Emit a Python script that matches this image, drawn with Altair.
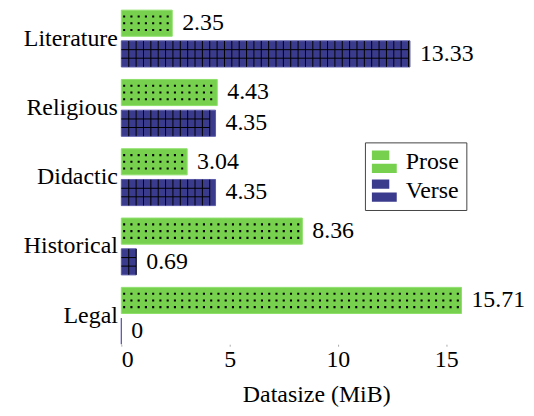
import altair as alt
import pandas as pd

categories = ["Literature", "Religious", "Didactic", "Historical", "Legal"]
series = ["Prose", "Verse"]
prose = [2.35, 4.43, 3.04, 8.36, 15.71]
verse = [13.33, 4.35, 4.35, 0.69, 0]
x_ticks = [0, 5, 10, 15]

rows = []
for c, p, v in zip(categories, prose, verse):
    rows.append({"category": c, "series": "Prose", "value": p, "label": f"{p:g}"})
    rows.append({"category": c, "series": "Verse", "value": v, "label": f"{v:g}"})
df = pd.DataFrame(rows)

FONT = "Liberation Serif"
FS = 24
GREEN = "#77d14f"
NAVY = "#3b3b8e"

y_enc = alt.Y("category:N", sort=categories,
              scale=alt.Scale(domain=categories, paddingInner=0.18, paddingOuter=0),
              axis=alt.Axis(title=None, domain=False, ticks=False, labelFont=FONT,
                            labelFontSize=FS, labelPadding=4, labelColor="black"))
yo_enc = alt.YOffset("series:N", scale=alt.Scale(domain=series, paddingInner=0.15))
x_scale = alt.Scale(domain=[0, 18], nice=False)

base = alt.Chart(df)

bars = base.mark_bar(strokeWidth=1).encode(
    x=alt.X("value:Q", scale=x_scale,
            axis=alt.Axis(values=x_ticks, title="Datasize (MiB)", domain=False, grid=False,
                          tickSize=2, tickColor="#aaaaaa", labelFont=FONT, labelFontSize=FS,
                          labelColor="black", labelPadding=1, titleFont=FONT,
                          titleFontSize=FS, titleFontWeight="normal", titleColor="black",
                          titlePadding=12)),
    y=y_enc,
    yOffset=yo_enc,
    color=alt.Color("series:N", scale=alt.Scale(domain=series, range=[GREEN, NAVY]),
                    legend=alt.Legend(title=None, orient="none", legendX=245, legendY=133,
                                      labelFont=FONT, labelFontSize=FS, labelColor="black",
                                      symbolType="M-1,-0.9H0.4V-0.15H-1Z M-1,0.15H1V0.9H-1Z",
                                      symbolSize=625, symbolStrokeWidth=0,
                                      rowPadding=4, padding=7, strokeColor="#444444",
                                      fillColor="white", labelOffset=9)),
    stroke=alt.Stroke("series:N", scale=alt.Scale(domain=series, range=["#8ee06a", "#5a5aaa"]),
                      legend=None),
)

dots = base.transform_filter(alt.datum.series == "Prose").transform_calculate(
    xs="sequence(0.13, datum.value - 0.05, 0.335)"
).transform_flatten(["xs"]).mark_point(
    shape="M-0.08,-0.6H0.08V-0.44H-0.08Z M-0.08,-0.08H0.08V0.08H-0.08Z M-0.08,0.44H0.08V0.6H-0.08Z",
    filled=True, color="black", size=676, opacity=1, strokeWidth=0,
).encode(x=alt.X("xs:Q", scale=x_scale), y=y_enc, yOffset=yo_enc)

grid = base.transform_filter(alt.datum.series == "Verse").transform_calculate(
    xs="sequence(0, datum.value - 0.34, 0.34)"
).transform_flatten(["xs"]).mark_point(
    shape="M0.574,-1V1 M0,-0.33H0.574 M0,0.33H0.574",
    filled=False, color="black", size=676, opacity=1, strokeWidth=1,
).encode(x=alt.X("xs:Q", scale=x_scale), y=y_enc, yOffset=yo_enc)

text = base.mark_text(align="left", dx=10, font=FONT, fontSize=FS, color="black").encode(
    x=alt.X("value:Q", scale=x_scale), y=y_enc, yOffset=yo_enc, text="label:N")

chart = alt.layer(bars, dots, grid, text).properties(
    width=392, height=336,
    padding={"top": 0, "left": 15, "right": 0, "bottom": 0},
).configure_view(stroke=None)

chart.save("out.html", embed_options={"renderer": "svg", "actions": False})
